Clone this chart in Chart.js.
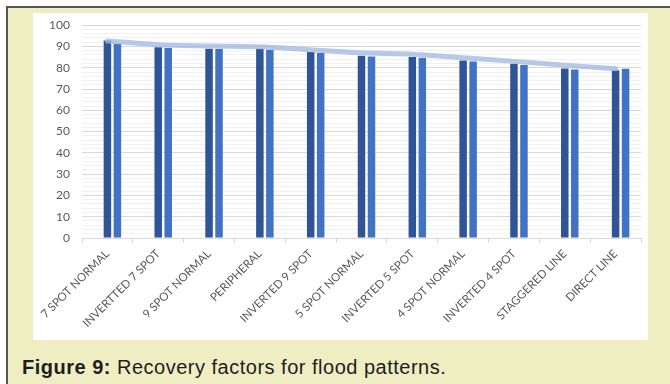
<!DOCTYPE html>
<html>
<head>
<meta charset="utf-8">
<script src="https://cdn.jsdelivr.net/npm/chart.js@4"></script>
<style>
  html, body { margin: 0; padding: 0; }
  body { width: 670px; height: 384px; position: relative; overflow: hidden; background: #ffffff; }
  #frame {
    position: absolute; left: 6px; top: 6px; width: 664px; height: 378px;
    background: #efedc2; border-top: 2px solid #555; border-left: 2px solid #555;
    box-sizing: border-box;
  }
  #panel { position: absolute; left: 33px; top: 13px; width: 615px; height: 327px; background: #ffffff; }
  #chart { position: absolute; left: 0; top: -7px; }
  #caption {
    position: absolute; left: 22px; top: 357px; font-family: "Liberation Sans", Arial, sans-serif;
    font-size: 20px; letter-spacing: 0.5px; line-height: 1; color: #1e1e1e; white-space: nowrap;
  }
  #caption b { font-weight: bold; }
</style>
</head>
<body>
<div id="frame"></div>
<div id="panel"><canvas id="chart" width="615" height="334"></canvas></div>
<div id="caption"><b>Figure 9:</b> Recovery factors for flood patterns.</div>
<script>
// Flood patterns and their recovery factors (%)
const categories = [
  '7 SPOT NORMAL', 'INVERTTED 7 SPOT', '9 SPOT NORMAL', 'PERIPHERAL', 'INVERTED 9 SPOT',
  '5 SPOT NORMAL', 'INVERTED 5 SPOT', '4 SPOT NORMAL', 'INVERTED 4 SPOT', 'STAGGERED LINE', 'DIRECT LINE'
];
const frontValues = [92.8, 89.6, 88.9, 88.9, 87.4, 85.6, 85.0, 83.4, 81.9, 79.7, 78.8];
const sideValues  = [91.3, 89.3, 88.8, 88.5, 86.9, 85.3, 84.7, 83.0, 81.3, 79.2, 79.5];
const trendValues = [92.6, 90.8, 90.2, 89.9, 88.5, 87.0, 86.4, 84.7, 83.0, 81.2, 79.5];
const yTickLabels = [0, 10, 20, 30, 40, 50, 60, 70, 80, 90, 100];

const axisFont = { family: 'Lato, "Liberation Sans", sans-serif', size: 12 };

new Chart(document.getElementById('chart'), {
  type: 'bar',
  data: {
    labels: categories,
    datasets: [
      // empty slot so the column pair sits right of the category centre
      { label: 'slot', data: [], backgroundColor: 'rgba(0,0,0,0)' },
      { label: 'front', data: frontValues, backgroundColor: '#2f5597' },
      { label: 'side', data: sideValues, backgroundColor: '#4272c4' },
      {
        type: 'line', label: 'trend', data: trendValues, order: -1,
        borderColor: 'rgba(160,181,226,0.75)', borderWidth: 5, pointRadius: 0,
        tension: 0.25, borderCapStyle: 'round', fill: false
      }
    ]
  },
  options: {
    responsive: false,
    animation: false,
    events: [],
    layout: { padding: { top: 5, right: 7, left: 0, bottom: 0 } },
    datasets: { bar: { categoryPercentage: 0.59, barPercentage: 0.75 } },
    plugins: { legend: { display: false }, tooltip: { enabled: false } },
    scales: {
      x: {
        grid: { drawOnChartArea: false, offset: true, tickLength: 5, color: '#d9d9d9' },
        border: { display: true, color: '#d9d9d9' },
        ticks: {
          color: '#595959', font: { family: axisFont.family, size: 11.5 },
          maxRotation: 45, minRotation: 45, autoSkip: false, padding: 4
        },
        afterFit: s => { s.height = 102; }
      },
      y: {
        min: 0, max: 100,
        afterBuildTicks: s => {
          const t = [];
          for (let v = 0; v <= 100; v += 2) t.push({ value: v });
          s.ticks = t;
        },
        grid: {
          drawTicks: false,
          color: c => (yTickLabels.includes(c.tick.value) ? '#d9d9d9' : '#f1f1f1')
        },
        border: { display: false },
        ticks: {
          color: '#595959', font: axisFont, padding: 12, autoSkip: false,
          callback: v => (yTickLabels.includes(v) ? String(v) : '')
        },
        afterFit: s => { s.width = 49; }
      }
    }
  }
});
</script>
</body>
</html>
